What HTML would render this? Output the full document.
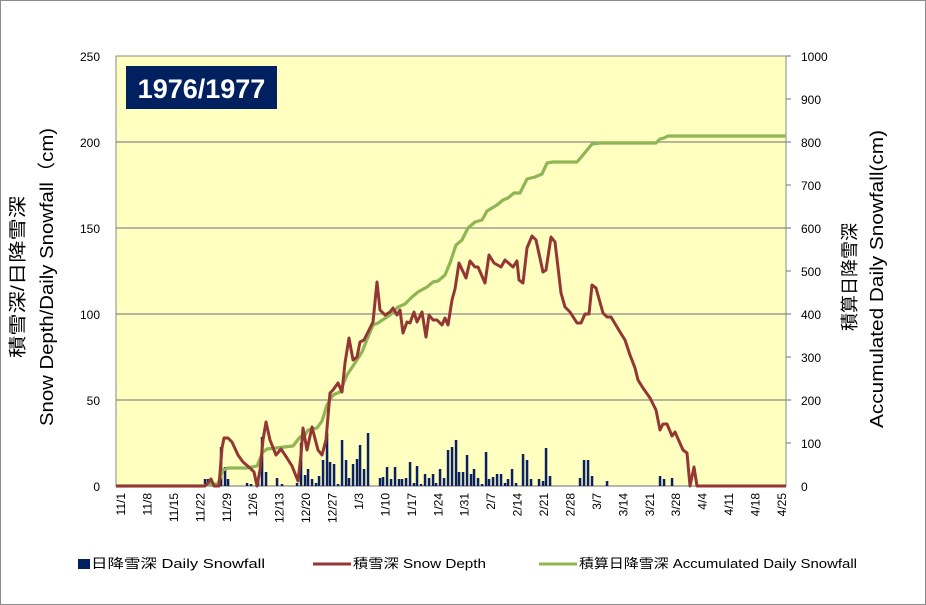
<!DOCTYPE html>
<html><head><meta charset="utf-8"><style>
html,body{margin:0;padding:0;background:#fff;}
svg{display:block;}
text{font-family:"Liberation Sans","Noto Sans CJK JP",sans-serif;}
</style></head><body>
<svg width="926" height="605" viewBox="0 0 926 605" xmlns="http://www.w3.org/2000/svg">
<rect x="0.5" y="0.5" width="925" height="604" fill="#fff" stroke="#8c8c8c"/>
<rect x="116" y="56" width="670" height="430" fill="#ffffc0" stroke="#888" stroke-width="1"/>
<g stroke="#8a8a8a" stroke-width="1.2">
<line x1="116" y1="142" x2="791" y2="142"/><line x1="116" y1="228" x2="791" y2="228"/>
<line x1="116" y1="314" x2="791" y2="314"/><line x1="116" y1="400" x2="791" y2="400"/>
<line x1="786" y1="56" x2="791" y2="56"/><line x1="786" y1="99" x2="791" y2="99"/><line x1="786" y1="185" x2="791" y2="185"/><line x1="786" y1="271" x2="791" y2="271"/><line x1="786" y1="357" x2="791" y2="357"/><line x1="786" y1="443" x2="791" y2="443"/>
<line x1="116" y1="486" x2="786" y2="486"/>
</g>
<g font-size="12" fill="#000" text-anchor="end">
<text x="100" y="61">250</text><text x="100" y="147">200</text><text x="100" y="233">150</text><text x="100" y="319">100</text><text x="100" y="405">50</text><text x="100" y="491">0</text>
</g>
<g font-size="12" fill="#000" text-anchor="start">
<text x="801" y="61">1000</text><text x="801" y="104">900</text><text x="801" y="147">800</text><text x="801" y="190">700</text><text x="801" y="233">600</text><text x="801" y="276">500</text><text x="801" y="319">400</text><text x="801" y="362">300</text><text x="801" y="405">200</text><text x="801" y="448">100</text><text x="801" y="491">0</text>
</g>
<g id="bars" fill="#0a2060"></g>
<polyline fill="none" stroke="#8fb556" stroke-width="3.2" stroke-linejoin="round" points="116,486 203,486 210,484 218,484 223,470 228,468 247,468 257,466 263,452 267,449 293,446 300,437 305,435 308,430 317,428 322,421 327,405 333,395 340,392 347,375 355,363 362,352 368,337 373,325 378,323 390,315 398,307 405,304 412,297 418,292 427,287 433,282 438,281 445,275 450,263 456,245 462,240 468,228 475,222 482,220 487,211 497,205 503,200 508,198 514,193 520,193 527,179 535,177 542,174 547,163 553,162 577,162 583,155 592,144 600,143 656,143 660,139 664,138 668,136 786,136"/>
<polyline fill="none" stroke="#943634" stroke-width="3" stroke-linejoin="round" points="116,486 205,486 208,483 211,479 214,486 219,486 222,448 224,438 228,438 232,442 238,455 243,462 250,468 254,472 257,486 260,470 263,440 266,422 270,440 276,455 281,449 287,458 292,466 298,481 301,455 303,428 307,450 312,427 318,450 322,455 326,440 330,393 333,390 338,383 342,392 345,363 349,338 353,360 357,357 360,342 364,340 368,332 373,322 377,282 380,310 385,315 390,312 393,308 397,315 400,310 403,333 407,322 410,323 414,312 417,322 422,312 426,337 429,315 433,320 437,320 442,325 445,318 448,325 452,300 455,289 459,263 466,278 470,261 475,267 478,267 485,283 489,255 494,263 501,267 505,260 513,267 517,261 519,280 523,283 527,248 532,236 536,240 543,272 546,270 551,237 555,242 561,293 565,307 570,312 577,323 581,323 585,314 589,314 592,285 596,288 603,313 607,317 611,317 620,332 625,340 630,355 635,368 638,380 643,388 650,398 656,410 660,430 663,424 667,424 672,436 675,432 683,450 687,453 690,486 694,467 697,486 786,486"/>
<rect x="126" y="66" width="151" height="43" fill="#002060"/>
<text x="201.5" y="98" font-size="27" font-weight="bold" fill="#fff" text-anchor="middle">1976/1977</text>
<g id="xl" font-size="12" fill="#000" text-anchor="end"></g>
<text transform="translate(24,277) rotate(-90)" font-size="18" text-anchor="middle" textLength="162" lengthAdjust="spacingAndGlyphs">積雪深/日降雪深</text>
<text transform="translate(53,277) rotate(-90)" font-size="18" text-anchor="middle" textLength="298" lengthAdjust="spacingAndGlyphs">Snow Depth/Daily Snowfall（cm)</text>
<text transform="translate(856,277) rotate(-90)" font-size="18" text-anchor="middle">積算日降雪深</text>
<text transform="translate(883,279) rotate(-90)" font-size="18" text-anchor="middle" textLength="298" lengthAdjust="spacingAndGlyphs">Accumulated Daily Snowfall(cm)</text>
<rect x="78" y="559" width="12" height="10" fill="#002060"/>
<text x="91" y="568" font-size="13" textLength="174" lengthAdjust="spacingAndGlyphs">日降雪深 Daily Snowfall</text>
<line x1="313" y1="564" x2="351" y2="564" stroke="#943634" stroke-width="3"/>
<text x="353" y="568" font-size="13" textLength="133" lengthAdjust="spacingAndGlyphs">積雪深 Snow Depth</text>
<line x1="539" y1="564" x2="577" y2="564" stroke="#8fb556" stroke-width="3"/>
<text x="579" y="568" font-size="13" textLength="278" lengthAdjust="spacingAndGlyphs">積算日降雪深 Accumulated Daily Snowfall</text>
</svg>
<script>
var b=[[205,479],[208,479],[221,447],[225,467],[228,479],[247,483],[251,484],[258,478],[262,437],[266,472],[277,478],[282,484],[297,483],[301,443],[305,475],[308,469],[312,479],[316,483],[319,476],[323,460],[327,433],[330,462],[334,464],[338,484],[342,440],[346,460],[349,478],[353,464],[357,459],[360,445],[364,469],[368,433],[380,478],[383,477],[387,467],[391,479],[395,467],[399,479],[402,479],[406,478],[410,462],[414,483],[417,466],[421,484],[425,474],[429,478],[433,474],[436,483],[440,469],[444,478],[448,450],[452,447],[456,440],[459,472],[463,472],[467,455],[471,474],[474,469],[478,478],[482,484],[486,452],[489,479],[493,477],[497,474],[501,474],[505,483],[508,479],[512,469],[516,483],[523,454],[527,460],[531,479],[539,479],[543,481],[546,448],[550,476],[580,478],[584,460],[588,460],[592,476],[607,481],[660,476],[664,479],[672,478]];
var g=document.getElementById('bars'),s='';
b.forEach(function(p){s+='<rect x="'+(p[0]-1.2)+'" y="'+p[1]+'" width="2.5" height="'+(486-p[1])+'"/>';});
g.innerHTML=s;
var L=['11/1','11/8','11/15','11/22','11/29','12/6','12/13','12/20','12/27','1/3','1/10','1/17','1/24','1/31','2/7','2/14','2/21','2/28','3/7','3/14','3/21','3/28','4/4','4/11','4/18','4/25'],t='';
L.forEach(function(l,i){var x=121+i*7*3.777+4;t+='<text transform="translate('+x.toFixed(1)+',493) rotate(-90)">'+l+'</text>';});
document.getElementById('xl').innerHTML=t;
</script>
</body></html>
